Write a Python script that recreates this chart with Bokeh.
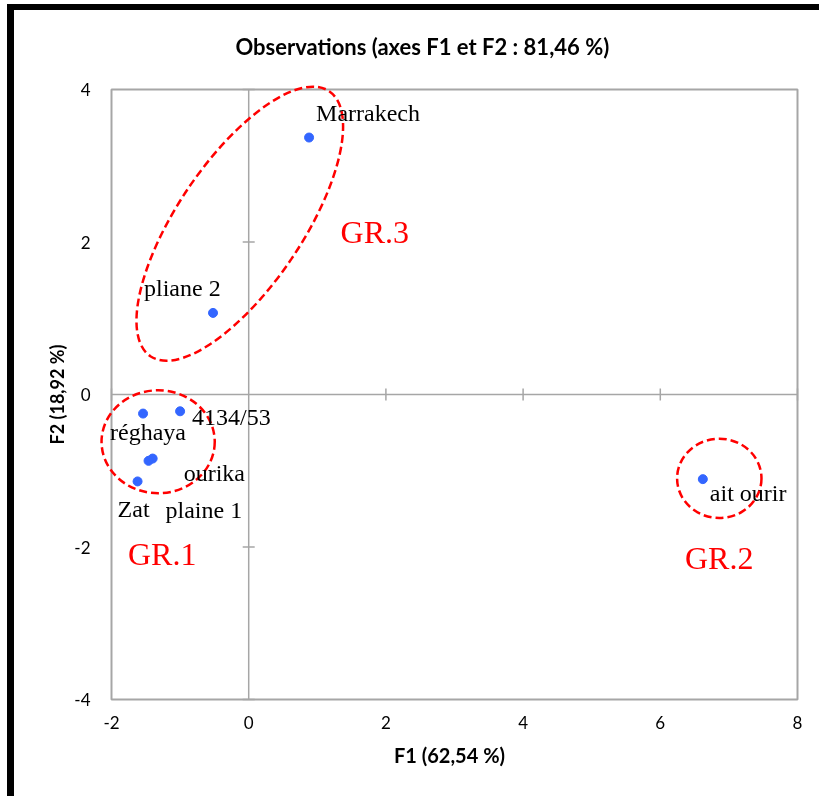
from bokeh.plotting import figure
from bokeh.models import ColumnDataSource, Range1d, FixedTicker, Title
from bokeh.core.properties import value
from bokeh.embed import file_html
from bokeh.resources import INLINE
import math

# Observation scores on the first two factorial axes
names = ["Marrakech", "pliane 2", "4134/53", "réghaya", "ourika", "plaine 1", "Zat", "ait ourir"]
f1 = [0.88, -0.52, -1.00, -1.54, -1.40, -1.46, -1.62, 6.62]
f2 = [3.37, 1.07, -0.22, -0.25, -0.84, -0.87, -1.14, -1.11]

# Group outlines (centre, extent, rotation in degrees)
groups = ["GR.1", "GR.2", "GR.3"]
group_cx = [-1.32, 6.86, -0.13]
group_cy = [-0.62, -1.10, 2.24]
group_w = [1.65, 1.23, 4.66]
group_h = [1.35, 1.04, 1.64]
group_angle = [0, 0, 56]

x_ticks = [-2, 0, 2, 4, 6, 8]
y_ticks = [-4, -2, 0, 2, 4]

# label placement (pixel offsets from each point, y downward)
label_dx = [7, -69, 12, -33, 31, 17, -20, 7]
label_dy = [-25, -25, 6, 18, 14, 49, 28, 14]
# group caption anchors (data units)
group_lx = [-1.76, 6.36, 1.34]
group_ly = [-2.09, -2.15, 2.13]

GRAY = "#A6A6A6"
SANS = "Lato"
SERIF = "Liberation Serif"

# pixels per unit on each axis; the drawing area is padded a little beyond
# the plotted box so the group outlines can spill over its edge
PX_X, PX_Y = 68.6, 76.25
xmin, xmax = x_ticks[0], x_ticks[-1]
ymin, ymax = y_ticks[0], y_ticks[-1]

p = figure(width=805, height=786,
           x_range=Range1d(xmin - 15 / PX_X, xmax + 5 / PX_X),
           y_range=Range1d(ymin - 5 / PX_Y, ymax + 5 / PX_Y),
           output_backend="svg", toolbar_location=None,
           min_border_left=82, min_border_right=17,
           min_border_top=74, min_border_bottom=92)
# heavy black rule along the left and top of the page
p.styles = {"position": "fixed", "left": "14px", "top": "10px",
            "box-shadow": "-7px -6px 0 0 black, 0 -6px 0 0 black, -7px 0 0 0 black"}

p.title = Title(text="Observations (axes F1 et F2 : 81,46 %)", align="left",
                vertical_align="top", offset=139, standoff=45,
                text_font=SANS, text_font_size="22px",
                text_font_style="bold", text_color="black")

p.xgrid.visible = False
p.ygrid.visible = False
p.outline_line_color = None
p.background_fill_color = "white"
p.border_fill_color = "white"

for ax, ticks in ((p.xaxis, x_ticks), (p.yaxis, y_ticks)):
    ax.ticker = FixedTicker(ticks=ticks)
    ax.major_label_overrides = {t: str(t) for t in ticks if t < 0}
    ax.axis_line_color = None
    ax.major_tick_line_color = None
    ax.minor_tick_line_color = None
    ax.major_label_text_font = SANS
    ax.major_label_text_font_size = "17px"
    ax.major_label_text_color = "black"
    ax.axis_label_text_font = SANS
    ax.axis_label_text_font_style = "bold"
    ax.axis_label_text_color = "black"

p.xaxis.axis_label = "F1 (62,54 %)"
p.yaxis.axis_label = "F2 (18,92 %)"
p.xaxis.axis_label_text_font_size = "20px"
p.yaxis.axis_label_text_font_size = "18px"
p.xaxis.major_label_standoff = 5
p.yaxis.major_label_standoff = 0
p.xaxis.axis_label_standoff = 11
p.yaxis.axis_label_standoff = 3
p.yaxis.major_label_orientation = "horizontal"

# plot box
p.quad(left=[xmin], right=[xmax], bottom=[ymin], top=[ymax],
       fill_color=None, line_color=GRAY, line_width=2)

# zero axes with cross ticks
p.segment(x0=[0, xmin], y0=[ymin, 0], x1=[0, xmax], y1=[ymax, 0],
          line_color=GRAY, line_width=1.5)
yt = [t for t in y_ticks if t != 0]
xt = [t for t in x_ticks if t != 0]
p.scatter(x=[0] * len(yt), y=yt, marker="dash", size=12, line_color=GRAY, line_width=1.5)
p.scatter(x=xt, y=[0] * len(xt), marker="dash", size=12, angle=math.pi / 2,
          line_color=GRAY, line_width=1.5)

# group ellipses
gsrc = ColumnDataSource(dict(x=group_cx, y=group_cy, w=group_w, h=group_h,
                             a=[math.radians(v) for v in group_angle],
                             lx=group_lx, ly=group_ly, t=groups))
p.ellipse(x="x", y="y", width="w", height="h", angle="a", source=gsrc,
          fill_color=None, line_color="red", line_width=2.5, line_dash="8 4")
p.text(x="lx", y="ly", text="t", source=gsrc, text_font=value(SERIF),
       text_font_size="32px", text_color="red", text_baseline="alphabetic",
       text_align="left")

# observations
src = ColumnDataSource(dict(x=f1, y=f2, name=names, dx=label_dx, dy=label_dy))
p.scatter(x="x", y="y", source=src, size=9, fill_color="#3366FF", line_color="#3366FF")
p.text(x="x", y="y", text="name", source=src, x_offset="dx", y_offset="dy",
       text_font=value(SERIF), text_font_size="24px", text_color="black",
       text_baseline="alphabetic", text_align="left")

open("out.html", "w").write(file_html(p, INLINE))
